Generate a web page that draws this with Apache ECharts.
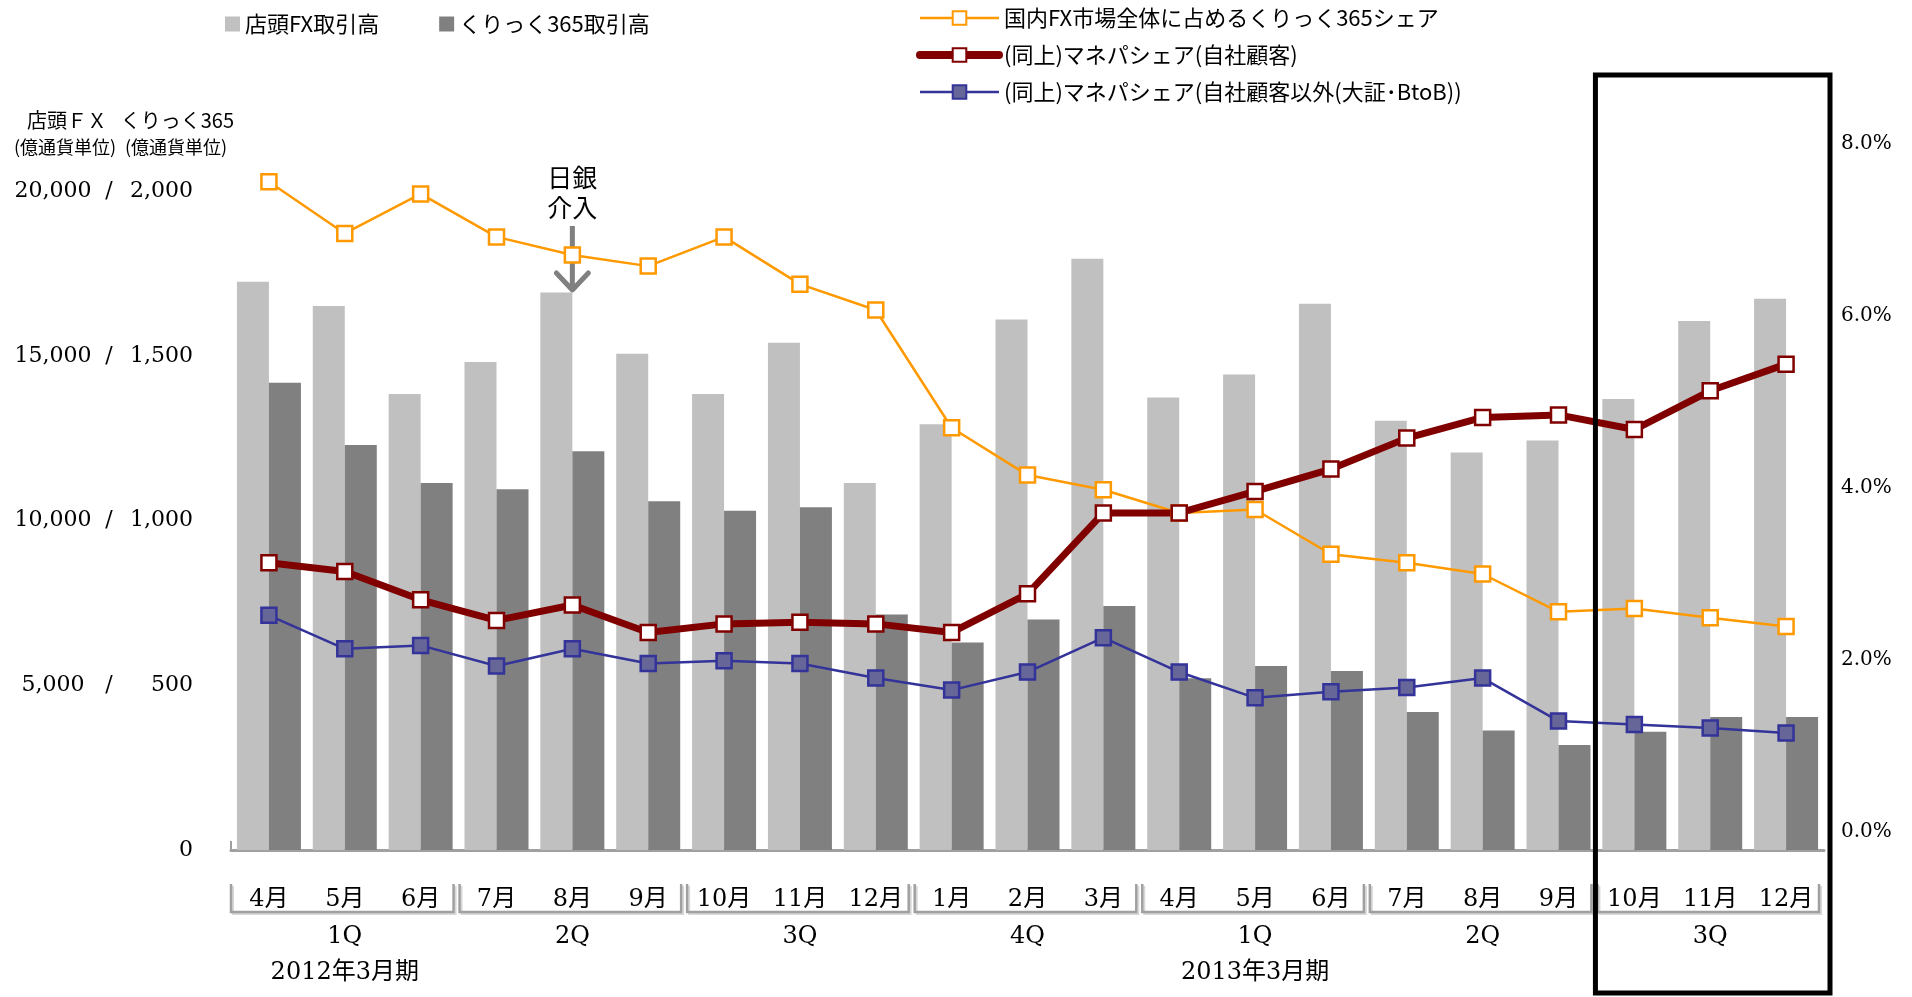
<!DOCTYPE html>
<html>
<head>
<meta charset="utf-8">
<title>店頭FX・くりっく365 取引高とシェア</title>
<script src="https://cdn.jsdelivr.net/npm/echarts@6/dist/echarts.min.js"></script>
<style>
  html, body { margin: 0; padding: 0; background: #fff; }
  #chart { width: 1912px; height: 997px; }
</style>
</head>
<body>
<div id="chart"></div>
<script>
// --- data ---
const months = ['4月', '5月', '6月', '7月', '8月', '9月', '10月', '11月', '12月', '1月', '2月', '3月',
                '4月', '5月', '6月', '7月', '8月', '9月', '10月', '11月', '12月'];
const quarters = ['1Q', '2Q', '3Q', '4Q', '1Q', '2Q', '3Q'];
const fiscalYears = ['2012年3月期', '', '', '', '2013年3月期', '', ''];

// 億通貨単位
const otcVolume = [17260, 16520, 13850, 14820, 16930, 15070, 13850, 15410, 11150, 12930, 16110, 17960,
                   13740, 14440, 16590, 13040, 12070, 12440, 13700, 16070, 16740];
const click365Volume = [1419, 1230, 1115, 1096, 1211, 1059, 1030, 1041, 715, 630, 700, 741,
                        522, 559, 544, 419, 363, 319, 359, 404, 404];

// %
const click365Share = [7.56, 6.96, 7.42, 6.92, 6.71, 6.58, 6.92, 6.37, 6.07, 4.70, 4.15, 3.98,
                       3.71, 3.75, 3.23, 3.13, 3.00, 2.56, 2.60, 2.49, 2.39];
const ownClientShare = [3.13, 3.03, 2.70, 2.46, 2.64, 2.32, 2.42, 2.44, 2.42, 2.32, 2.77, 3.71,
                        3.71, 3.96, 4.22, 4.58, 4.82, 4.85, 4.68, 5.13, 5.44];
const otherShare = [2.52, 2.13, 2.17, 1.93, 2.13, 1.96, 1.99, 1.96, 1.79, 1.65, 1.86, 2.26,
                    1.86, 1.56, 1.63, 1.68, 1.79, 1.29, 1.25, 1.21, 1.15];

const SERIF = '"DejaVu Serif", "Noto Sans CJK JP", serif';
const SANS = '"Noto Sans CJK JP", sans-serif';

const NAME_OTC = '店頭FX取引高';
const NAME_365 = 'くりっく365取引高';
const NAME_SHARE = '国内FX市場全体に占めるくりっく365シェア';
const NAME_OWN = '(同上)マネパシェア(自社顧客)';
const NAME_OTHER = '(同上)マネパシェア(自社顧客以外(大証･BtoB))';

const fmt = v => v.toLocaleString('en-US');

const chart = echarts.init(document.getElementById('chart'));

const gridLeft = 231, gridRight = 88;
const numStyle = { fontFamily: SERIF, fontSize: 22, color: '#000' };

chart.setOption({
    animation: false,
    backgroundColor: '#fff',
    textStyle: { fontFamily: SANS, color: '#000' },
    legend: [{
        data: [NAME_OTC, NAME_365],
        left: 220, top: 8,
        icon: 'rect', itemWidth: 15, itemHeight: 15, itemGap: 60,
        textStyle: { fontSize: 22, color: '#000', fontFamily: SANS }
    }, {
        data: [
            { name: NAME_SHARE, lineStyle: { width: 2.5 } },
            { name: NAME_OWN, lineStyle: { width: 8, cap: 'round' } },
            { name: NAME_OTHER, lineStyle: { width: 2.5 } }
        ],
        orient: 'vertical', left: 911, top: 2,
        itemWidth: 79, itemHeight: 17, itemGap: 15,
        textStyle: { fontSize: 22, color: '#000', fontFamily: SANS }
    }],
    grid: [
        { left: gridLeft, right: gridRight, top: 191.5, bottom: 147, outerBoundsMode: 'none' },
        { left: gridLeft, right: gridRight, top: 144, bottom: 165, outerBoundsMode: 'none' }
    ],
    xAxis: [{
        type: 'category', gridIndex: 0, data: months, position: 'bottom',
        axisLine: { lineStyle: { color: '#a0a0a0', width: 3 } },
        axisTick: { show: false },
        axisLabel: { interval: 0, margin: 38, fontSize: 24, color: '#000', fontFamily: SERIF }
    }, {
        type: 'category', gridIndex: 0, data: quarters, position: 'bottom', offset: 62,
        axisLine: { show: false }, axisTick: { show: false },
        axisLabel: { interval: 0, margin: 13, fontSize: 24, color: '#000', fontFamily: SERIF }
    }, {
        type: 'category', gridIndex: 0, data: fiscalYears, position: 'bottom', offset: 62,
        axisLine: { show: false }, axisTick: { show: false },
        axisLabel: { interval: 0, margin: 49, fontSize: 24, color: '#000', fontFamily: SERIF }
    }, {
        type: 'category', gridIndex: 1, data: months, show: false
    }],
    yAxis: [{
        type: 'value', gridIndex: 0, min: 0, max: 20000, interval: 5000,
        axisLine: { show: false }, axisTick: { show: false }, splitLine: { show: false },
        axisLabel: {
            margin: 38, fontFamily: SERIF, fontSize: 22, color: '#000',
            formatter: v => v === 0 ? '{b|0}' : `{a|${fmt(v)}}{s|/}{b|${fmt(v / 10)}}`,
            rich: {
                a: Object.assign({ width: 90, align: 'right' }, numStyle),
                s: Object.assign({ width: 22, align: 'center' }, numStyle),
                b: Object.assign({ width: 73, align: 'right' }, numStyle)
            }
        }
    }, {
        type: 'value', gridIndex: 0, min: 0, max: 2000, interval: 500, show: false
    }, {
        type: 'value', gridIndex: 1, position: 'right', min: 0, max: 8, interval: 2,
        axisLine: { show: false }, axisTick: { show: false }, splitLine: { show: false },
        axisLabel: { margin: 17, fontFamily: SERIF, fontSize: 20, color: '#000', formatter: v => v.toFixed(1) + '%' }
    }],
    series: [{
        name: NAME_OTC, type: 'bar', xAxisIndex: 0, yAxisIndex: 0,
        data: otcVolume, barWidth: 32, barGap: '0%',
        itemStyle: { color: '#c0c0c0' }
    }, {
        name: NAME_365, type: 'bar', xAxisIndex: 0, yAxisIndex: 1,
        data: click365Volume, barWidth: 32, barGap: '0%',
        itemStyle: { color: '#808080' }
    }, {
        name: NAME_SHARE, type: 'line', xAxisIndex: 3, yAxisIndex: 2,
        data: click365Share, symbol: 'rect', symbolSize: 15,
        lineStyle: { color: '#ff9900', width: 2.5 },
        itemStyle: { color: '#fff', borderColor: '#ff9900', borderWidth: 2.5 }
    }, {
        name: NAME_OWN, type: 'line', xAxisIndex: 3, yAxisIndex: 2,
        data: ownClientShare, symbol: 'rect', symbolSize: 15,
        lineStyle: { color: '#800000', width: 7 },
        itemStyle: { color: '#fff', borderColor: '#800000', borderWidth: 2.5 }
    }, {
        name: NAME_OTHER, type: 'line', xAxisIndex: 3, yAxisIndex: 2,
        data: otherShare, symbol: 'rect', symbolSize: 15,
        lineStyle: { color: '#333399', width: 2.5 },
        itemStyle: { color: '#666699', borderColor: '#333399', borderWidth: 2.5 }
    }]
});

// annotations: axis titles, quarter brackets, 日銀介入 arrow, box round the last quarter
const catX = i => chart.convertToPixel({ gridIndex: 0 }, [i, 0])[0];
const baseY = chart.convertToPixel({ gridIndex: 0 }, [0, 0])[1];
const half = (catX(1) - catX(0)) / 2;
const edge = k => catX(0) - half + k * 2 * half;   // left edge of category k
const interX = catX(4);
const boxLeft = edge(18) - 1;

const brackets = [];
quarters.forEach((q, g) => {
    const xs = edge(g * 3) + (g === 0 ? 0 : 1);
    const xe = edge(g * 3 + 3) - 5;
    brackets.push({
        type: 'polyline', silent: true,
        shape: { points: [[xs + 2, 886], [xs + 2, 914], [xe + 2, 914], [xe + 2, 886]] },
        style: { stroke: '#d8d8d8', lineWidth: 2, fill: null }
    }, {
        type: 'polyline', silent: true,
        shape: { points: [[xs, 884], [xs, 912], [xe, 912], [xe, 884]] },
        style: { stroke: '#a0a0a0', lineWidth: 2.5, fill: null }
    });
});

chart.setOption({
    graphic: brackets.concat([{
        type: 'polyline', silent: true,
        shape: { points: [[edge(0), baseY - 9], [edge(0), baseY]] },
        style: { stroke: '#a0a0a0', lineWidth: 2, fill: null }
    }, {
        type: 'text', left: 27, top: 110,
        style: { text: '店頭ＦＸ', font: '20px ' + SANS, fill: '#000' }
    }, {
        type: 'text', right: 1912 - 234, top: 110,
        style: { text: 'くりっく365', font: '20px ' + SANS, fill: '#000' }
    }, {
        type: 'text', left: 14, top: 138,
        style: { text: '(億通貨単位)', font: '18px ' + SANS, fill: '#000' }
    }, {
        type: 'text', left: 125, top: 138,
        style: { text: '(億通貨単位)', font: '18px ' + SANS, fill: '#000' }
    }, {
        type: 'text', x: interX, y: 162,
        style: { text: '日銀\n介入', font: '25px ' + SANS, fill: '#000', align: 'center', lineHeight: 30 }
    }, {
        type: 'polyline',
        shape: { points: [[interX, 226], [interX, 290]] },
        style: { stroke: '#808080', lineWidth: 5, fill: null }
    }, {
        type: 'polyline',
        shape: { points: [[interX - 16, 273], [interX, 290], [interX + 16, 273]] },
        style: { stroke: '#808080', lineWidth: 5, fill: null, lineCap: 'round', lineJoin: 'round' }
    }, {
        type: 'rect', z: 100,
        shape: { x: boxLeft, y: 75, width: 1830 - boxLeft, height: 918 },
        style: { stroke: '#000', lineWidth: 5, fill: null }
    }])
});
</script>
</body>
</html>
